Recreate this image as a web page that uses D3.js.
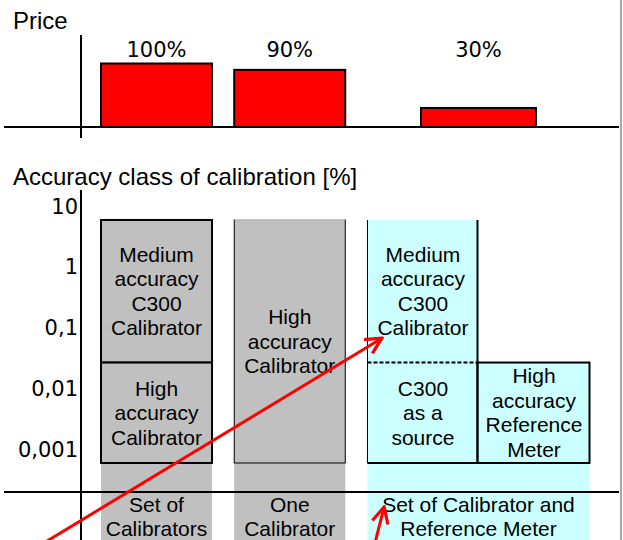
<!DOCTYPE html>
<html>
<head>
<meta charset="utf-8">
<style>
  body { margin: 0; padding: 0; background: #fff; }
  svg { display: block; }
  .sans { font-family: 'Liberation Sans', Arial, sans-serif; }
  .verd { font-family: 'DejaVu Sans', Verdana, sans-serif; }
</style>
</head>
<body>
<div id="chart"></div>
<script src="https://cdnjs.cloudflare.com/ajax/libs/d3/7.8.5/d3.min.js"></script>
<script>
var categories = ["Set of\nCalibrators", "One\nCalibrator", "Set of Calibrator and\nReference Meter"];
var columnsPerCategory = [1, 1, 2];
var price = [100, 90, 30];
var priceLabels = ["100%", "90%", "30%"];
var accuracyTicks = [10, 1, 0.1, 0.01, 0.001];

// boxes of the accuracy chart (category, column inside category, upper and lower accuracy)
var boxCategory = [0, 0, 1, 2, 2, 2];
var boxColumn = [0, 0, 0, 0, 0, 1];
var boxHigh = [6, 0.027, 6, 6, 0.027, 0.027];
var boxLow = [0.027, 0.0006, 0.0006, 0.027, 0.0006, 0.0006];
var boxLabels = [
  "Medium\naccuracy\nC300\nCalibrator",
  "High\naccuracy\nCalibrator",
  "High\naccuracy\nCalibrator",
  "Medium\naccuracy\nC300\nCalibrator",
  "C300\nas a\nsource",
  "High\naccuracy\nReference\nMeter"
];

// red arrows, [column units, accuracy]
var arrowFrom = [[-0.5, 0.00003], [2.47, 0.00003]];
var arrowTo = [[2.53, 0.068], [2.55, 0.000113]];

var width = 623, height = 540;
var gap = 0.2;
var starts = [], s = 0;
columnsPerCategory.forEach(function (c) { starts.push(s); s += c + gap; });
var totalUnits = s - gap;

var svg = d3.select("#chart").append("svg")
  .attr("width", width)
  .attr("height", height);

var x = d3.scaleLinear().domain([0, totalUnits]).range([101, 589.5]);
var yPrice = d3.scaleLinear().domain([0, 100]).range([127, 63.5]);
var y = d3.scaleLog().domain([0.001, 10]).range([449.5, 206.5]);

var grey = "#c0c0c0", cyan = "#ccffff";
var catFill = function (c) { return c === 2 ? cyan : grey; };

// ---------- Price chart ----------
svg.append("text").attr("class", "sans")
  .attr("x", 13).attr("y", 29)
  .attr("font-size", 24)
  .text("Price");

var priceBars = price.map(function (p, i) {
  var mid = starts[i] + columnsPerCategory[i] / 2;
  var pad = columnsPerCategory[i] > 1 ? 2 : 0;
  return {v: p, label: priceLabels[i], x0: x(mid - 0.5) - pad, x1: x(mid + 0.5) + pad, cx: x(mid)};
});

svg.selectAll(".pbar")
  .data(priceBars)
  .enter().append("rect")
    .attr("x", d => d.x0)
    .attr("y", d => yPrice(d.v))
    .attr("width", d => d.x1 - d.x0)
    .attr("height", d => yPrice(0) - yPrice(d.v))
    .attr("fill", "#ff0000")
    .attr("stroke", "#000")
    .attr("stroke-width", 2);

svg.selectAll(".plabel")
  .data(priceBars)
  .enter().append("text")
    .attr("class", "verd")
    .attr("x", d => d.cx)
    .attr("y", 57)
    .attr("text-anchor", "middle")
    .attr("font-size", 21)
    .text(d => d.label);

svg.append("line")
  .attr("x1", 4).attr("x2", 619)
  .attr("y1", yPrice(0)).attr("y2", yPrice(0))
  .attr("stroke", "#000").attr("stroke-width", 2);
svg.append("line")
  .attr("x1", 81).attr("x2", 81)
  .attr("y1", 35).attr("y2", 138)
  .attr("stroke", "#000").attr("stroke-width", 2);

// ---------- Accuracy chart ----------
svg.append("text").attr("class", "sans")
  .attr("x", 13).attr("y", 185)
  .attr("font-size", 24)
  .text("Accuracy class of calibration [%]");

var boxes = boxCategory.map(function (c, i) {
  var u = starts[c] + boxColumn[i];
  return {cat: c, col: boxColumn[i], high: boxHigh[i], low: boxLow[i],
          x0: x(u), x1: x(u + 1), y0: y(boxHigh[i]), y1: y(boxLow[i]), label: boxLabels[i]};
});

// category backgrounds below the boxes
svg.selectAll(".catbg")
  .data(categories)
  .enter().append("rect")
    .attr("x", (d, i) => x(starts[i]))
    .attr("y", (d, i) => y(d3.min(boxLow.filter((v, k) => boxCategory[k] === i))))
    .attr("width", (d, i) => x(starts[i] + columnsPerCategory[i]) - x(starts[i]))
    .attr("height", (d, i) => height - y(d3.min(boxLow.filter((v, k) => boxCategory[k] === i))))
    .attr("fill", (d, i) => catFill(i));

svg.selectAll(".box")
  .data(boxes)
  .enter().append("rect")
    .attr("x", d => d.x0)
    .attr("y", d => d.y0)
    .attr("width", d => d.x1 - d.x0)
    .attr("height", d => d.y1 - d.y0)
    .attr("fill", d => catFill(d.cat))
    .attr("stroke", d => d.cat === 2 ? "none" : "#000")
    .attr("stroke-width", d => d.cat === 0 ? 2 : 1);

// top of single calibrator box is light
boxes.filter(d => d.cat === 1).forEach(function (d) {
  svg.append("line")
    .attr("x1", d.x0 + 0.5).attr("x2", d.x1 - 0.5)
    .attr("y1", d.y0).attr("y2", d.y0)
    .attr("stroke", "#dadada").attr("stroke-width", 1.5);
});

// borders of the calibrator + reference meter group
boxes.filter(d => d.cat === 2).forEach(function (d) {
  var g = svg.append("g").attr("stroke", "#000").attr("fill", "none");
  if (d.col === 1) {
    g.append("rect")
      .attr("x", d.x0 - 1).attr("y", d.y0)
      .attr("width", d.x1 - d.x0 + 1).attr("height", d.y1 - d.y0)
      .attr("stroke-width", 2);
  } else {
    g.append("line").attr("x1", d.x0).attr("x2", d.x0)
      .attr("y1", d.y0).attr("y2", d.y1).attr("stroke-width", 1);
    g.append("line").attr("x1", d.x1 - 1).attr("x2", d.x1 - 1)
      .attr("y1", d.y0).attr("y2", d.y1).attr("stroke-width", 2);
    var below = boxes.some(b => b !== d && b.cat === d.cat && b.col === d.col && b.high === d.low);
    g.append("line").attr("x1", d.x0).attr("x2", d.x1)
      .attr("y1", d.y1).attr("y2", d.y1)
      .attr("stroke-width", 2)
      .attr("stroke-dasharray", below ? "4,2" : null);
  }
});

// box labels
var lineH = 24.5;
boxes.forEach(function (d) {
  var lines = d.label.split("\n");
  var cy = (d.y0 + d.y1) / 2;
  var t = svg.append("text").attr("class", "sans")
    .attr("text-anchor", "middle")
    .attr("font-size", 21)
    .attr("fill", "#000");
  lines.forEach(function (l, k) {
    t.append("tspan")
      .attr("x", (d.x0 + d.x1) / 2)
      .attr("y", cy + (k - (lines.length - 1) / 2) * lineH)
      .attr("dy", "0.35em")
      .text(l);
  });
});

// axes of the accuracy chart
var yAxis = svg.append("g")
  .attr("transform", "translate(81,0)")
  .call(d3.axisLeft(y).tickValues(accuracyTicks).tickSize(0).tickPadding(3)
    .tickFormat(d => String(d).replace(".", ",")));
yAxis.select(".domain").remove();
yAxis.selectAll("text")
  .attr("font-size", 21)
  .attr("font-family", "'DejaVu Sans', Verdana, sans-serif")
  .attr("fill", "#000");

svg.append("line")
  .attr("x1", 4).attr("x2", 619)
  .attr("y1", 492).attr("y2", 492)
  .attr("stroke", "#000").attr("stroke-width", 2);
svg.append("line")
  .attr("x1", 81).attr("x2", 81)
  .attr("y1", 190).attr("y2", height)
  .attr("stroke", "#000").attr("stroke-width", 2);

// category labels
categories.forEach(function (c, i) {
  var lines = c.split("\n");
  var cx = x(starts[i] + columnsPerCategory[i] / 2);
  var t = svg.append("text").attr("class", "sans")
    .attr("text-anchor", "middle")
    .attr("font-size", 21);
  lines.forEach(function (l, k) {
    t.append("tspan")
      .attr("x", cx)
      .attr("y", 516.5 + (k - (lines.length - 1) / 2) * 23.5)
      .attr("dy", "0.35em")
      .text(l);
  });
});

// ---------- arrows ----------
svg.append("defs").append("marker")
  .attr("id", "head")
  .attr("viewBox", "0 0 10 10")
  .attr("refX", 9).attr("refY", 5)
  .attr("markerWidth", 20).attr("markerHeight", 20)
  .attr("markerUnits", "userSpaceOnUse")
  .attr("orient", "auto")
  .append("path")
    .attr("d", "M1,1 L9,5 L1,9")
    .attr("fill", "none")
    .attr("stroke", "#ff0000")
    .attr("stroke-width", 1.6);

svg.selectAll(".arrow")
  .data(arrowFrom)
  .enter().append("line")
    .attr("x1", d => x(d[0]))
    .attr("y1", d => y(d[1]))
    .attr("x2", (d, i) => x(arrowTo[i][0]))
    .attr("y2", (d, i) => y(arrowTo[i][1]))
    .attr("stroke", "#ff0000")
    .attr("stroke-width", 3)
    .attr("marker-end", "url(#head)");

// frame edge
svg.append("line")
  .attr("x1", 621).attr("x2", 621)
  .attr("y1", 0).attr("y2", height)
  .attr("stroke", "#a6a6a6").attr("stroke-width", 2);
</script>
</body>
</html>
